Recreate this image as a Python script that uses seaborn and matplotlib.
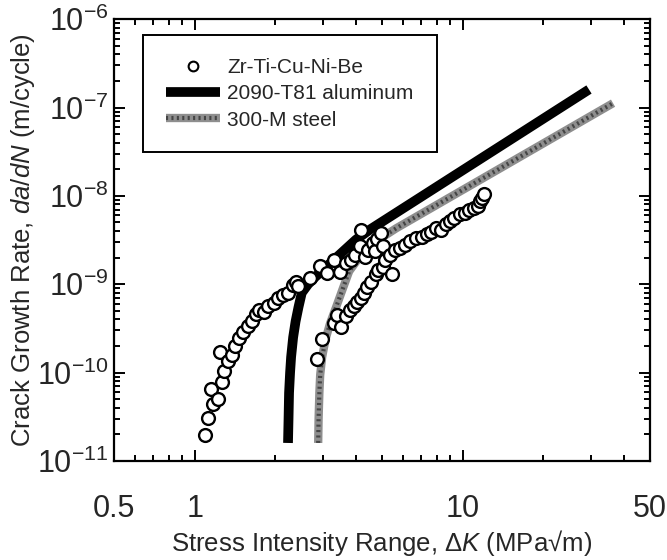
import numpy as np
import pandas as pd
import matplotlib
matplotlib.use("Agg")
import matplotlib.pyplot as plt
import seaborn as sns
from matplotlib.lines import Line2D
from matplotlib.legend_handler import HandlerTuple
from matplotlib.ticker import FixedLocator, FixedFormatter, LogLocator, NullFormatter

# ---- data ----
zr_dk = [1.09, 1.12, 1.15, 1.17, 1.22, 1.24, 1.26, 1.29, 1.33, 1.38, 1.42, 1.46, 1.51,
         1.58, 1.64, 1.69, 1.74, 1.82, 1.88, 1.98, 2.05, 2.13, 2.23, 2.32, 2.38, 2.42,
         2.70, 2.93, 3.13, 3.31, 3.50, 3.66, 3.84, 3.98, 4.13, 4.18, 4.33, 4.45, 4.61,
         4.70, 4.79, 4.97, 5.06,
         2.86, 2.99, 3.31, 3.40, 3.52, 3.66, 3.80, 3.94, 4.03, 4.18, 4.30, 4.40, 4.56,
         4.73, 4.84, 5.06, 5.15, 5.35, 5.45, 5.61, 5.86, 6.08, 6.35, 6.67, 7.05, 7.36,
         7.64, 7.93, 8.32, 8.63, 8.95, 9.29, 9.75, 10.2, 10.6, 11.0, 11.4, 11.6, 11.8, 12.0]
zr_rate = [1.96e-11, 3.07e-11, 6.5e-11, 4.45e-11, 4.97e-11, 1.73e-10, 7.8e-11, 1.03e-10,
           1.34e-10, 1.57e-10, 1.99e-10, 2.44e-10, 2.88e-10, 3.41e-10, 3.82e-10, 4.6e-10,
           5.05e-10, 4.8e-10, 5.65e-10, 6.2e-10, 7.0e-10, 7.5e-10, 8.05e-10, 9.7e-10,
           1.07e-9, 9.45e-10, 1.17e-9, 1.62e-9, 1.35e-9, 1.9e-9, 1.38e-9, 1.73e-9, 1.9e-9,
           2.15e-9, 2.71e-9, 4.13e-9, 2.01e-9, 2.47e-9, 2.92e-9, 2.36e-9, 3.27e-9, 3.76e-9,
           2.71e-9,
           1.43e-10, 2.39e-10, 3.64e-10, 4.51e-10, 3.32e-10, 4.39e-10, 5.05e-10, 5.65e-10,
           6.38e-10, 7.0e-10, 8.05e-10, 9.27e-10, 1.07e-9, 1.29e-9, 1.44e-9, 1.58e-9,
           1.87e-9, 2.15e-9, 1.29e-9, 2.47e-9, 2.59e-9, 2.76e-9, 3.12e-9, 3.33e-9, 3.42e-9,
           3.66e-9, 3.94e-9, 4.32e-9, 4.13e-9, 4.75e-9, 5.21e-9, 5.61e-9, 6.28e-9, 6.4e-9,
           6.9e-9, 7.36e-9, 7.71e-9, 8.7e-9, 9.57e-9, 1.05e-8]

al_dk = [2.23, 2.24, 2.25, 2.27, 2.29, 2.33, 2.38, 2.44, 2.51, 2.65, 2.81, 3.25, 4.0,
         4.53, 29.6]
al_rate = [1.6e-11, 3.0e-11, 5.9e-11, 1.0e-10, 1.5e-10, 2.5e-10, 3.8e-10, 5.5e-10, 8.0e-10,
           1.0e-9, 1.2e-9, 1.8e-9, 3.2e-9, 4.2e-9, 1.6e-7]

st_dk = [2.89, 2.90, 2.92, 2.94, 2.99, 3.08, 3.20, 3.37, 3.55, 3.77, 4.20, 4.70, 5.65,
         36.4]
st_rate = [1.6e-11, 3.0e-11, 6.0e-11, 9.4e-11, 1.5e-10, 2.4e-10, 3.6e-10, 5.5e-10, 8.5e-10,
           1.4e-9, 2.2e-9, 3.0e-9, 4.3e-9, 1.12e-7]

series_labels = ["Zr-Ti-Cu-Ni-Be", "2090-T81 aluminum", "300-M steel"]
x_ticks = [0.5, 1, 10, 50]
x_ticklabels = ["0.5", "1", "10", "50"]
y_ticks = [1e-11, 1e-10, 1e-9, 1e-8, 1e-7, 1e-6]
y_ticklabels = [r"$\mathregular{10^{-11}}$", r"$\mathregular{10^{-10}}$",
                r"$\mathregular{10^{-9}}$", r"$\mathregular{10^{-8}}$",
                r"$\mathregular{10^{-7}}$", r"$\mathregular{10^{-6}}$"]
x_label = r"Stress Intensity Range, Δ$\mathit{K}$ (MPa√m)"
y_label = r"Crack Growth Rate, $\mathit{da/dN}$ (m/cycle)"

# ---- style ----
sns.set_theme(style="ticks")
plt.rcParams["font.family"] = ["Liberation Sans", "DejaVu Sans"]
plt.rcParams["mathtext.fontset"] = "custom"
plt.rcParams["mathtext.rm"] = "Liberation Sans"
plt.rcParams["mathtext.it"] = "Liberation Sans:italic"
plt.rcParams["mathtext.bf"] = "Liberation Sans:bold"
plt.rcParams["axes.unicode_minus"] = False

fig = plt.figure(figsize=(6.67, 5.6), dpi=100)
ax = fig.add_axes([0.1709, 0.1768, 0.8036, 0.789])

al_df = pd.DataFrame({"dk": al_dk, "rate": al_rate})
st_df = pd.DataFrame({"dk": st_dk, "rate": st_rate})
zr_df = pd.DataFrame({"dk": zr_dk, "rate": zr_rate})

steel_color = "#8e8e8e"
steel_dots = dict(color="#454545", linewidth=3, linestyle=(0, (0.5, 0.8)))
sns.lineplot(data=st_df, x="dk", y="rate", sort=False, estimator=None, ax=ax,
             color=steel_color, linewidth=6, solid_capstyle="butt", zorder=2)
sns.lineplot(data=st_df, x="dk", y="rate", sort=False, estimator=None, ax=ax,
             zorder=2.1, **steel_dots)
sns.lineplot(data=al_df, x="dk", y="rate", sort=False, estimator=None, ax=ax,
             color="black", linewidth=7, solid_capstyle="butt", zorder=3)
sns.scatterplot(data=zr_df, x="dk", y="rate", ax=ax, marker="o", s=85,
                facecolor="white", edgecolor="black", linewidth=1.7, zorder=4)

ax.set_xscale("log")
ax.set_yscale("log")
ax.set_xlim(0.5, 50)
ax.set_ylim(1e-11, 1e-6)

ax.xaxis.set_major_locator(FixedLocator(x_ticks))
ax.xaxis.set_major_formatter(FixedFormatter(x_ticklabels))
ax.xaxis.set_minor_locator(LogLocator(base=10, subs=np.arange(2, 10)))
ax.xaxis.set_minor_formatter(NullFormatter())
ax.yaxis.set_major_locator(FixedLocator(y_ticks))
ax.yaxis.set_major_formatter(FixedFormatter(y_ticklabels))
ax.yaxis.set_minor_locator(LogLocator(base=10, subs=np.arange(2, 10)))
ax.yaxis.set_minor_formatter(NullFormatter())

ax.tick_params(which="both", direction="in", top=True, right=True, width=1.4, color="black")
ax.tick_params(which="major", length=8)
ax.tick_params(which="minor", length=4)
ax.tick_params(axis="x", which="major", labelsize=22, pad=24)
ax.tick_params(axis="y", which="major", labelsize=22, pad=4)
for sp in ax.spines.values():
    sp.set_linewidth(1.6)
    sp.set_color("black")

ax.set_xlabel(x_label, fontsize=18.5, labelpad=3)
ax.set_ylabel(y_label, fontsize=18.5, labelpad=0)

handles = [
    Line2D([], [], linestyle="none", marker="o", markersize=7, markerfacecolor="white",
           markeredgecolor="black", markeredgewidth=1.5),
    Line2D([], [], color="black", linewidth=7, solid_capstyle="butt"),
    (Line2D([], [], color=steel_color, linewidth=6, solid_capstyle="butt"),
     Line2D([], [], **steel_dots)),
]
leg = ax.legend(handles, series_labels, loc="upper left", bbox_to_anchor=(0.054, 0.964),
                borderaxespad=0, fontsize=15, frameon=True, fancybox=False, edgecolor="black",
                handlelength=2.6, handletextpad=0.35, borderpad=1.1, labelspacing=0.35,
                handler_map={tuple: HandlerTuple(ndivide=1, pad=0)})
leg.get_frame().set_linewidth(1.4)
leg.get_frame().set_alpha(1)

fig.savefig("out.png", dpi=100)
